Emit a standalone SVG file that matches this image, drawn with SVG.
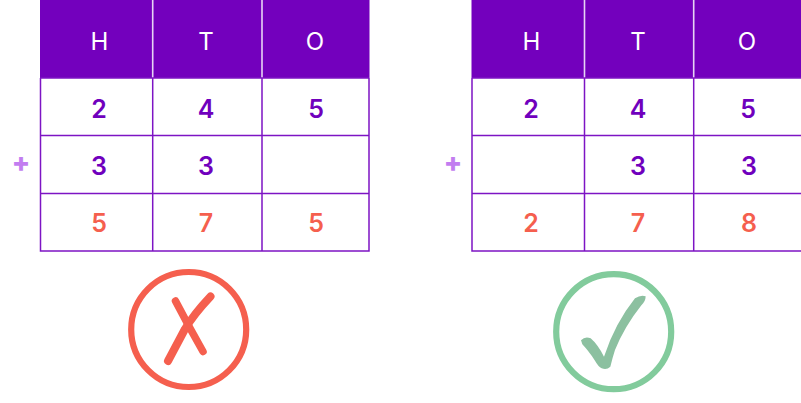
<svg xmlns="http://www.w3.org/2000/svg" width="801" height="403" viewBox="0 0 801 403">
<style>
text{font-family:"Inter","Noto Sans",sans-serif;text-anchor:middle}
.head{fill:#7300bd}
.grid{fill:none;stroke:#7d14c4;stroke-width:1.5}
.hl{stroke:#e6d3f4;stroke-width:1.6}
.h{fill:#fff;font-size:24px;font-weight:400}
.n{fill:#7000bd;font-size:25px;font-weight:600}
.r{fill:#f55f4e;font-size:25px;font-weight:600}
.p{fill:#c27df0;font-size:27px;font-weight:800}
</style>
<rect width="801" height="403" fill="#fff"/>
<g id="table-wrong">
<rect class="head" x="40" y="0" width="329.500" height="78"/>
<path class="hl" d="M152.700 0V78M262 0V78"/>
<path class="grid" d="M40.500 78V251H369V78M40.500 78H369M40.500 135.500H369M40.500 193.500H369M152.700 78V251M262 78V251"/>
<text class="h" x="99.500" y="49.500">H</text><text class="h" x="206" y="49.500">T</text><text class="h" x="315" y="49.500">O</text>
<text class="n" x="99" y="117.500">2</text><text class="n" x="206" y="117.500">4</text><text class="n" x="316" y="117.500">5</text>
<text class="n" x="99" y="174.500">3</text><text class="n" x="206" y="174.500">3</text>
<text class="r" x="99" y="231.500">5</text><text class="r" x="206" y="231.500">7</text><text class="r" x="316" y="231.500">5</text>
<text class="p" x="21" y="171.500">+</text>
</g>
<g id="table-right">
<rect class="head" x="471.500" y="0" width="329.500" height="78"/>
<path class="hl" d="M584.500 0V78M693.700 0V78"/>
<path class="grid" d="M472 78V251H801M472 78H801M472 135.500H801M472 193.500H801M584.500 78V251M693.700 78V251"/>
<text class="h" x="531.500" y="49.500">H</text><text class="h" x="638" y="49.500">T</text><text class="h" x="747" y="49.500">O</text>
<text class="n" x="531" y="117.500">2</text><text class="n" x="638" y="117.500">4</text><text class="n" x="748" y="117.500">5</text>
<text class="n" x="638" y="174.500">3</text><text class="n" x="749" y="174.500">3</text>
<text class="r" x="531" y="231.500">2</text><text class="r" x="638" y="231.500">7</text><text class="r" x="749" y="231.500">8</text>
<text class="p" x="453" y="171.500">+</text>
</g>
<g id="cross">
<circle cx="188.700" cy="329.500" r="57.500" fill="none" stroke="#f55f4e" stroke-width="6.200"/>
<path d="M175.500 301Q189 327 203 351.500" fill="none" stroke="#f55f4e" stroke-width="7.500" stroke-linecap="round"/>
<path d="M210.500 296.500Q194 314 185 329L168 361" fill="none" stroke="#f55f4e" stroke-width="8" stroke-linecap="round" stroke-linejoin="round"/>
</g>
<g id="check">
<circle cx="613.700" cy="331.700" r="57.500" fill="none" stroke="#82cb9c" stroke-width="6.200"/>
<path transform="translate(535 255) scale(.3333)" d="M138 256Q150 243 167 250Q188 268 207 305Q240 205 300 130Q318 118 332 124Q332 140 318 152Q268 215 240 285Q232 310 226 335Q215 346 200 340Q190 335 180 317Q160 287 142 268Z" fill="#8cc0a0"/>
</g>
</svg>
